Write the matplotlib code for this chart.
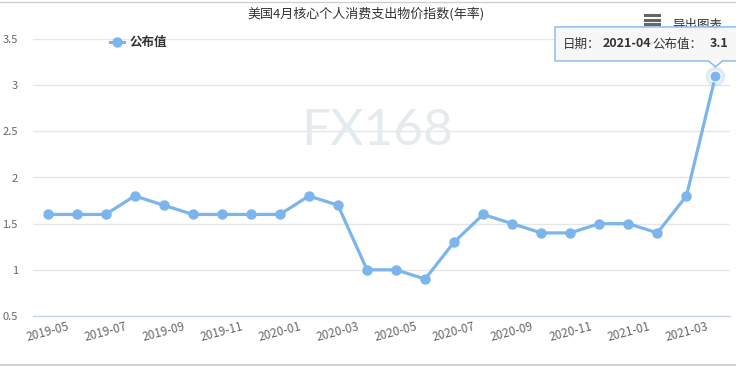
import matplotlib
matplotlib.use("Agg")
import matplotlib.pyplot as plt
from matplotlib.patches import Polygon
import numpy as np

plt.rcParams['font.family'] = ['Noto Sans CJK SC', 'DejaVu Sans']

# data
months = ["2019-05", "2019-06", "2019-07", "2019-08", "2019-09", "2019-10",
          "2019-11", "2019-12", "2020-01", "2020-02", "2020-03", "2020-04",
          "2020-05", "2020-06", "2020-07", "2020-08", "2020-09", "2020-10",
          "2020-11", "2020-12", "2021-01", "2021-02", "2021-03", "2021-04"]
values = [1.6, 1.6, 1.6, 1.8, 1.7, 1.6, 1.6, 1.6, 1.6, 1.8, 1.7, 1.0,
          1.0, 0.9, 1.3, 1.6, 1.5, 1.4, 1.4, 1.5, 1.5, 1.4, 1.8, 3.1]
y_ticks = [0.5, 1, 1.5, 2, 2.5, 3, 3.5]
y_labels = ["0.5", "1", "1.5", "2", "2.5", "3", "3.5"]
title = "美国4月核心个人消费支出物价指数(年率)"
series_name = "公布值"

W, H = 736, 366
fig = plt.figure(figsize=(W / 100, H / 100), dpi=100)

def fx(x):
    return x / W

def fy(y):
    return 1 - y / H

LINE = "#7cb5ec"
GRID = "#e6e6e6"

# plot area in pixels: left 33, right 730, top 39, bottom 316
ax = fig.add_axes([fx(33), fy(316), fx(730 - 33), (316 - 39) / H])
x = np.arange(len(months))
ax.set_xlim(-0.5, len(months) - 0.5)
ax.set_ylim(0.5, 3.5)

ax.plot(x[:-1], values[:-1], color=LINE, lw=2.3, marker="o", ms=6.5,
        mec=LINE, mfc=LINE, zorder=3, solid_joinstyle="round")
ax.plot(x[-2:], values[-2:], color=LINE, lw=2.3, zorder=3)
# hovered point with halo
ax.plot(x[-1], values[-1], "o", ms=14, color=LINE, alpha=0.25, mew=0, zorder=2, clip_on=False)
ax.plot(x[-1], values[-1], "o", ms=8, color=LINE, mec="white", mew=0.8, zorder=4, clip_on=False)

ax.set_yticks(y_ticks)
ax.set_yticklabels(y_labels)
ax.grid(axis="y", color=GRID, lw=1)
ax.set_axisbelow(True)
ax.tick_params(axis="y", length=0, pad=11, labelsize=8, labelcolor="#666666")

ax.set_xticks(x[::2])
ax.set_xticklabels(months[::2], rotation=15, ha="center", va="top")
ax.tick_params(axis="x", length=0, pad=3, labelsize=8.5, labelcolor="#666666")

for s in ["top", "right", "left"]:
    ax.spines[s].set_visible(False)
ax.spines["bottom"].set_color("#ccd6eb")
ax.spines["bottom"].set_linewidth(1)

# watermark
fig.text(fx(377), fy(131), "FX168", fontsize=37, color="#e4ebef",
         ha="center", va="center", family=["Lato", "DejaVu Sans"], zorder=0)

# title
fig.text(fx(366), fy(14), title, fontsize=9.4, color="#333333", ha="center", va="center")

# legend
fig.lines.append(plt.Line2D([fx(110), fx(124)], [fy(42), fy(42)], color=LINE, lw=2.2,
                            transform=fig.transFigure))
fig.lines.append(plt.Line2D([fx(117)], [fy(42)], color=LINE, marker="o", ms=6.5,
                            transform=fig.transFigure))
fig.text(fx(130), fy(42), series_name, fontsize=9, fontweight="bold", color="#333333",
         ha="left", va="center")

# export menu icon
for yy in [15, 19.5, 24]:
    fig.lines.append(plt.Line2D([fx(645), fx(659)], [fy(yy), fy(yy)], color="#666666", lw=2.2,
                                transform=fig.transFigure))
fig.text(fx(672), fy(26), "导出图表", fontsize=9, color="#333333", ha="left", va="center")

# chart border lines
fig.lines.append(plt.Line2D([0, 1], [fy(2), fy(2)], color="#d0d0d0", lw=1, transform=fig.transFigure))
fig.lines.append(plt.Line2D([0, 1], [fy(364.5), fy(364.5)], color="#c8c8c8", lw=1.2,
                            transform=fig.transFigure))

# tooltip anchored on the last point
fig.canvas.draw()
px, py = ax.transData.transform((x[-1], values[-1]))
px_pix = px
py_pix = H - py
tip_y = py_pix - 9
box_bottom = tip_y - 6
box_top = box_bottom - 34
box_left = 555
pts = [(box_left, box_top), (W + 5, box_top), (W + 5, box_bottom), (px_pix + 7, box_bottom),
       (px_pix, tip_y), (px_pix - 7, box_bottom), (box_left, box_bottom)]
tip = Polygon([(fx(a), fy(b)) for a, b in pts], closed=True, transform=fig.transFigure,
              facecolor="#f7f7f7", edgecolor=LINE, lw=1, alpha=0.97, zorder=10,
              joinstyle="round")
fig.patches.append(tip)
ty = fy((box_top + box_bottom) / 2)
parts = [("日期：", "normal", 563), ("2021-04", "bold", 603), ("公布值：", "normal", 652),
         ("3.1", "bold", 710)]
for txt, wt, xx in parts:
    fig.text(fx(xx), ty, txt, fontsize=9, fontweight=wt, color="#333333",
             ha="left", va="center", zorder=11)

fig.savefig("out.png", dpi=100)
